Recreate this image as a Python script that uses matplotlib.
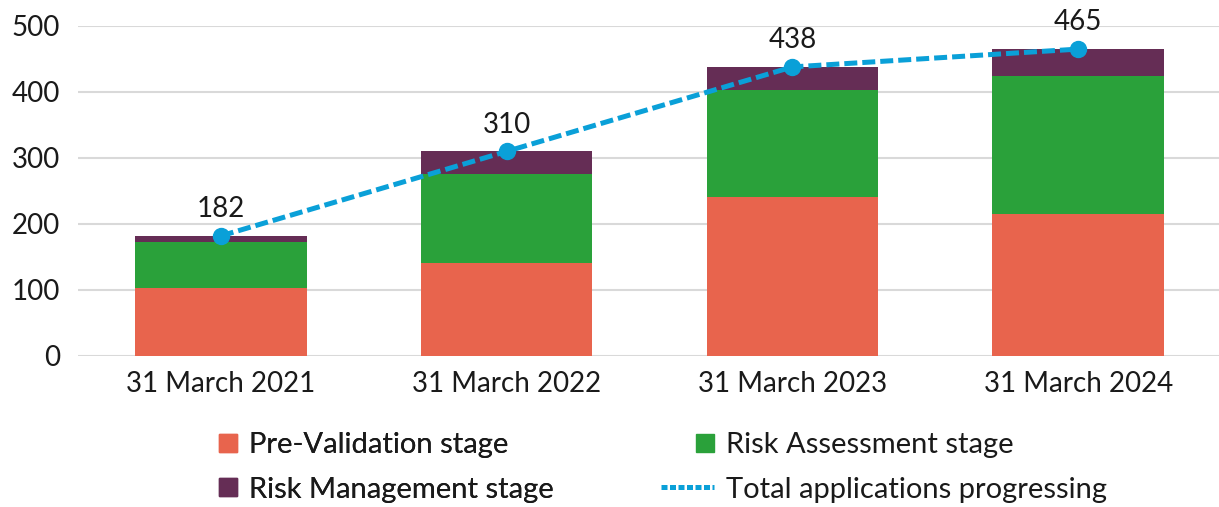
import numpy as np
import matplotlib
matplotlib.use("Agg")
import matplotlib.pyplot as plt
import matplotlib.patches as mpatches
from matplotlib.lines import Line2D
from matplotlib.legend_handler import HandlerPatch

plt.rcParams["font.family"] = ["Lato", "DejaVu Sans"]
plt.rcParams["text.color"] = "#1a1a1a"

dates = ["31 March 2021", "31 March 2022", "31 March 2023", "31 March 2024"]
pre_validation = [103, 141, 241, 215]
risk_assessment = [70, 135, 162, 209]
risk_management = [9, 34, 35, 41]
total = [182, 310, 438, 465]

c_pre = "#E8644D"
c_ass = "#2AA13A"
c_man = "#652D55"
c_tot = "#0AA0D8"

fig = plt.figure(figsize=(12.19, 5.07), dpi=100)
ax = fig.add_axes([78/1219, 151/507, 1143/1219, 330/507])

x = np.arange(len(dates))
pre = np.array(pre_validation)
ass = np.array(risk_assessment)
man = np.array(risk_management)

ax.bar(x, pre, width=0.6, color=c_pre, zorder=2)
ax.bar(x, ass, width=0.6, bottom=pre, color=c_ass, zorder=2)
ax.bar(x, man, width=0.6, bottom=pre + ass, color=c_man, zorder=2)
ax.plot(x, total, color=c_tot, lw=3.6, dashes=(2.6, 1.0), marker="o",
        markersize=11.5, zorder=3)
for xi, t in zip(x, total):
    ax.annotate(str(t), (xi, t), xytext=(0, 10), textcoords="offset points",
                ha="center", va="bottom", fontsize=20, annotation_clip=False)

ax.set_xlim(-0.5, 3.5)
ax.set_ylim(0, 500)
ax.set_yticks(range(0, 501, 100))
ax.set_xticks(x)
ax.set_xticklabels(dates)
ax.tick_params(length=0, labelsize=20, colors="#1a1a1a")
ax.tick_params(axis="y", pad=13)
ax.tick_params(axis="x", pad=11)
ax.grid(axis="y", color="#d9d9d9", lw=1.5, zorder=0)
for s in ax.spines.values():
    s.set_visible(False)


def right_square(legend, orig_handle, xdescent, ydescent, width, height, fontsize):
    s = 18 * 0.72
    return mpatches.Rectangle((-xdescent + width - s, -ydescent + (height - s) / 2), s, s)


leg_kw = dict(ncol=1, loc="center left", frameon=False, fontsize=21,
              handlelength=1.8, handletextpad=0.43, labelspacing=0.63,
              borderpad=0, borderaxespad=0,
              handler_map={mpatches.Patch: HandlerPatch(patch_func=right_square)})

left_handles = [
    mpatches.Patch(color=c_pre, label="Pre-Validation stage"),
    mpatches.Patch(color=c_man, label="Risk Management stage"),
]
right_handles = [
    mpatches.Patch(color=c_ass, label="Risk Assessment stage"),
    Line2D([], [], color=c_tot, lw=3.6, dashes=(1.2, 0.5), label="Total applications progressing"),
]
leg1 = fig.legend(handles=left_handles, bbox_to_anchor=(184/1219, 1 - 467.5/507), **leg_kw)
fig.add_artist(leg1)
fig.legend(handles=right_handles, bbox_to_anchor=(661/1219, 1 - 467.5/507), **leg_kw)

fig.savefig("out.png", dpi=100)
